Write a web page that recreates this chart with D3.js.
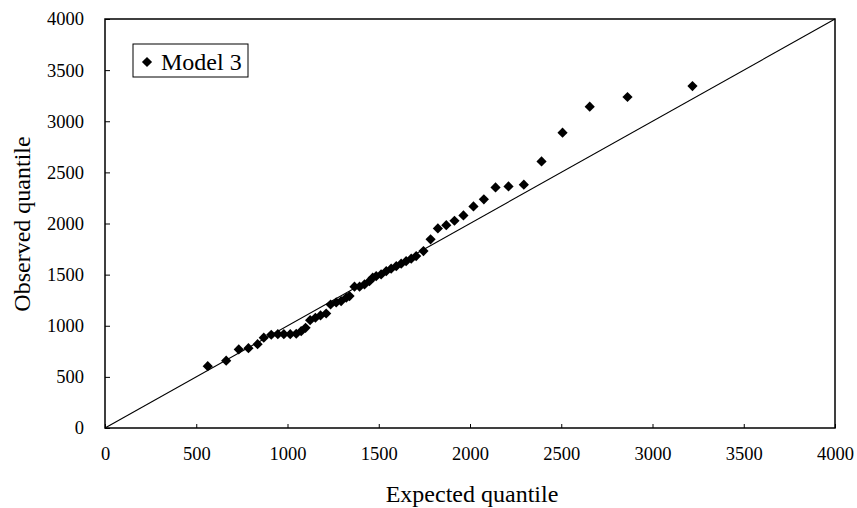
<!DOCTYPE html>
<html>
<head>
<meta charset="utf-8">
<script src="https://cdn.jsdelivr.net/npm/d3@7"></script>
<style>
  body { margin: 0; background: #fff; }
  svg { display: block; font-family: 'Liberation Serif', 'Times New Roman', serif; }
</style>
</head>
<body>
<div id="chart"></div>
<script>
'use strict';

// expected vs observed quantiles
var expected = [563, 664, 733, 786, 836, 870, 911, 947, 980, 1015, 1048, 1075, 1099, 1124, 1153, 1181,
	1212, 1236, 1267, 1294, 1322, 1340, 1367, 1395, 1422, 1449, 1467, 1486, 1513, 1541, 1568, 1596,
	1623, 1650, 1678, 1705, 1745, 1784, 1824, 1870, 1915, 1964, 2019, 2076, 2140, 2211, 2295, 2392,
	2507, 2656, 2863, 3219];
var observed = [605, 658, 768, 781, 820, 883, 912, 918, 918, 918, 922, 947, 980, 1055, 1078, 1101,
	1120, 1208, 1228, 1241, 1274, 1290, 1382, 1382, 1404, 1436, 1470, 1485, 1502, 1534, 1558, 1583,
	1607, 1632, 1656, 1681, 1730, 1845, 1952, 1984, 2027, 2079, 2167, 2236, 2353, 2363, 2380, 2607,
	2888, 3143, 3237, 3344];
var tickValues = [0, 500, 1000, 1500, 2000, 2500, 3000, 3500, 4000];
var seriesName = 'Model 3';

var margin = {top: 19, right: 22, bottom: 80, left: 105};
var width = 857 - margin.left - margin.right;
var height = 508 - margin.top - margin.bottom;

var svg = d3.select('#chart').append('svg')
	.attr('width', 857)
	.attr('height', 508);

var g = svg.append('g')
	.attr('transform', 'translate(' + margin.left + ',' + margin.top + ')');

var xScale = d3.scaleLinear().domain([0, 4000]).range([0, width]);
var yScale = d3.scaleLinear().domain([0, 4000]).range([height, 0]);

// AXES (ticks point inward, plain numbers)
var fmt = d3.format('d');
var xAxis = d3.axisBottom(xScale).tickValues(tickValues).tickFormat(fmt).tickSizeInner(-4).tickSizeOuter(0).tickPadding(19);
var yAxis = d3.axisLeft(yScale).tickValues(tickValues).tickFormat(fmt).tickSizeInner(-5).tickSizeOuter(0).tickPadding(21);

g.append('g')
	.attr('class', 'axis x')
	.attr('transform', 'translate(0,' + height + ')')
	.call(xAxis);

g.append('g')
	.attr('class', 'axis y')
	.call(yAxis);

g.selectAll('.axis .domain').remove();
g.selectAll('.axis line').attr('stroke', '#000');
g.selectAll('.axis text')
	.attr('fill', '#000')
	.style('font-size', '18.5px')
	.style('font-family', "'Liberation Serif', serif");

// plot border
g.append('rect')
	.attr('x', 0)
	.attr('y', 0)
	.attr('width', width)
	.attr('height', height)
	.attr('fill', 'none')
	.attr('stroke', '#000')
	.attr('stroke-width', 1.5);

// y = x reference line
g.append('line')
	.attr('x1', xScale(0))
	.attr('y1', yScale(0))
	.attr('x2', xScale(4000))
	.attr('y2', yScale(4000))
	.attr('stroke', '#000')
	.attr('stroke-width', 1.1);

// POINTS
var data = expected.map(function(d, i){ return {x: d, y: observed[i]}; });
var diamond = d3.symbol().type(d3.symbolSquare).size(52);

g.append('g')
	.attr('class', 'points')
	.selectAll('path')
	.data(data)
	.enter().append('path')
		.attr('d', diamond)
		.attr('transform', function(d){ return 'translate(' + xScale(d.x) + ',' + yScale(d.y) + ') rotate(45)'; })
		.attr('fill', '#000');

// LEGEND
var legend = svg.append('g').attr('transform', 'translate(133,44)');
legend.append('rect')
	.attr('width', 115)
	.attr('height', 33)
	.attr('fill', '#fff')
	.attr('stroke', '#000')
	.attr('stroke-width', 1);
legend.append('path')
	.attr('d', diamond)
	.attr('transform', 'translate(14,18) rotate(45)')
	.attr('fill', '#000');
legend.append('text')
	.attr('x', 28)
	.attr('y', 26)
	.style('font-size', '24px')
	.text(seriesName);

// AXIS TITLES
svg.append('text')
	.attr('x', 472)
	.attr('y', 502)
	.attr('text-anchor', 'middle')
	.style('font-size', '24px')
	.text('Expected quantile');

svg.append('text')
	.attr('transform', 'translate(30,224) rotate(-90)')
	.attr('text-anchor', 'middle')
	.style('font-size', '24px')
	.text('Observed quantile');
</script>
</body>
</html>
